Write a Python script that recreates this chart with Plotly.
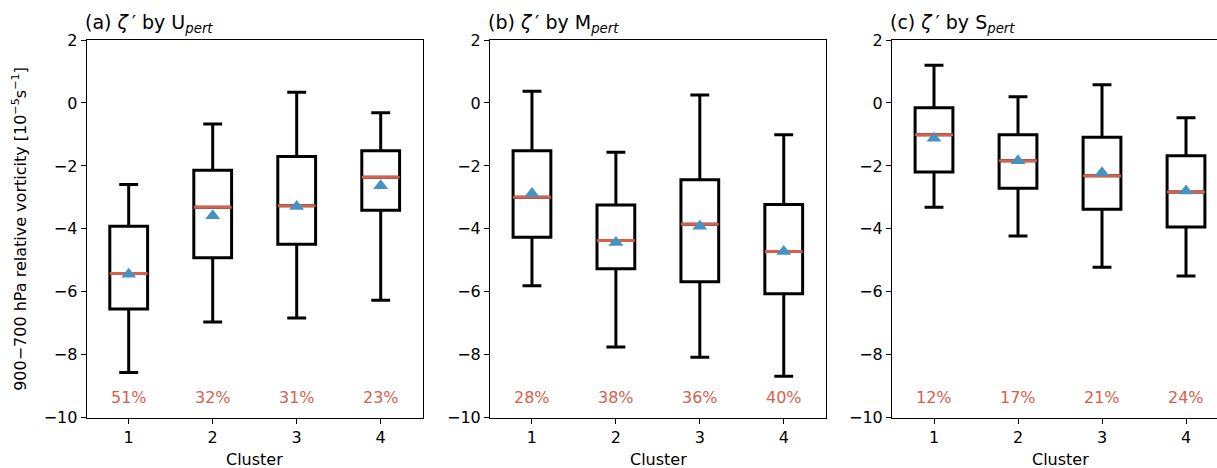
import plotly.graph_objects as go

clusters = [1, 2, 3, 4]

# Panel (a) zeta' by U_pert
a_low = [-8.56, -6.96, -6.83, -6.27]
a_q1 = [-6.55, -4.92, -4.49, -3.41]
a_med = [-5.42, -3.31, -3.27, -2.36]
a_q3 = [-3.92, -2.14, -1.70, -1.52]
a_high = [-2.59, -0.67, 0.34, -0.31]
a_mean = [-5.44, -3.58, -3.29, -2.63]
a_pct = ["51%", "32%", "31%", "23%"]

# Panel (b) zeta' by M_pert
b_low = [-5.81, -7.75, -8.08, -8.68]
b_q1 = [-4.27, -5.27, -5.68, -6.06]
b_med = [-3.00, -4.37, -3.85, -4.72]
b_q3 = [-1.52, -3.24, -2.44, -3.23]
b_high = [0.37, -1.57, 0.25, -1.01]
b_mean = [-2.88, -4.43, -3.92, -4.72]
b_pct = ["28%", "38%", "36%", "40%"]

# Panel (c) zeta' by S_pert
c_low = [-3.31, -4.23, -5.22, -5.50]
c_q1 = [-2.19, -2.71, -3.38, -3.94]
c_med = [-1.01, -1.84, -2.31, -2.83]
c_q3 = [-0.15, -1.01, -1.09, -1.68]
c_high = [1.20, 0.20, 0.58, -0.47]
c_mean = [-1.12, -1.84, -2.22, -2.80]
c_pct = ["12%", "17%", "21%", "24%"]

titles = ["(a) <i>ζ</i>\u2009′ by U<sub><i>pert</i></sub>",
          "(b) <i>ζ</i>\u2009′ by M<sub><i>pert</i></sub>",
          "(c) <i>ζ</i>\u2009′ by S<sub><i>pert</i></sub>"]

yticks = [2, 0, -2, -4, -6, -8, -10]
yticklabels = ["2", "0", "−2", "−4", "−6", "−8", "−10"]

RED = "#d6604d"
BLUE = "#4393c3"
FONT = "DejaVu Sans"
BOXW = 0.45

panels = [
    (a_low, a_q1, a_med, a_q3, a_high, a_mean, a_pct),
    (b_low, b_q1, b_med, b_q3, b_high, b_mean, b_pct),
    (c_low, c_q1, c_med, c_q3, c_high, c_mean, c_pct),
]

W, H = 1217, 468
domains = [(86.7 / W, 422.7 / W), (490 / W, 825.7 / W), (892 / W, 1.0)]
px_per_unit = (422.7 - 86.7) / 4.0
xranges = [[0.5, 4.5], [0.5, 4.5], [0.5, 0.5 + (W - 892) / px_per_unit]]
ydom = [(H - 417.7) / H, (H - 40) / H]

fig = go.Figure()
annotations = []
for i, (lo, q1, med, q3, hi, mean, pct) in enumerate(panels):
    xa = "x" if i == 0 else f"x{i+1}"
    ya = "y" if i == 0 else f"y{i+1}"
    fig.add_trace(go.Box(
        x=clusters, q1=q1, median=med, q3=q3, lowerfence=lo, upperfence=hi,
        width=BOXW, whiskerwidth=0.5, fillcolor="rgba(255,255,255,0)",
        line=dict(color="black", width=3), boxpoints=False,
        xaxis=xa, yaxis=ya, showlegend=False, hoverinfo="skip"))
    for c, m in zip(clusters, med):
        fig.add_trace(go.Scatter(
            x=[c - BOXW / 2, c + BOXW / 2], y=[m, m], mode="lines",
            line=dict(color=RED, width=3), xaxis=xa, yaxis=ya,
            showlegend=False, hoverinfo="skip"))
    fig.add_trace(go.Scatter(
        x=clusters, y=mean, mode="markers",
        marker=dict(symbol="triangle-up", size=13, color=BLUE, line=dict(width=0)),
        xaxis=xa, yaxis=ya, showlegend=False, hoverinfo="skip"))
    for c, p in zip(clusters, pct):
        annotations.append(dict(x=c, y=-9.36, xref=xa, yref=ya, text=p,
                                showarrow=False, font=dict(color=RED, size=16, family=FONT),
                                xanchor="center", yanchor="middle"))
    annotations.append(dict(x=domains[i][0], y=ydom[1], xref="paper", yref="paper",
                            text=titles[i], showarrow=False, xanchor="left", yanchor="bottom",
                            xshift=-4, yshift=2, font=dict(size=19, family=FONT, color="black")))
    annotations.append(dict(x=(domains[i][0] + (422.7 - 86.7) / W / 2),
                            y=ydom[0], xref="paper", yref="paper", text="Cluster",
                            showarrow=False, xanchor="center", yanchor="top", yshift=-30,
                            font=dict(size=16, family=FONT, color="black")))

    axis_common = dict(showline=True, linecolor="black", linewidth=1.1,
                       ticks="outside", ticklen=5, tickwidth=1.1, tickcolor="black",
                       showgrid=False, zeroline=False, automargin=False,
                       tickfont=dict(size=16, family=FONT, color="black"))
    xkey = "xaxis" if i == 0 else f"xaxis{i+1}"
    ykey = "yaxis" if i == 0 else f"yaxis{i+1}"
    fig.update_layout({
        xkey: dict(domain=list(domains[i]), range=xranges[i], anchor=ya, mirror=True,
                   tickvals=clusters, ticktext=[str(c) for c in clusters], **axis_common),
        ykey: dict(domain=ydom, range=[-10, 2], anchor=xa, mirror=(i < 2),
                   tickvals=yticks, ticktext=yticklabels, **axis_common),
    })

annotations.append(dict(x=20 / W, y=(ydom[0] + ydom[1]) / 2, xref="paper", yref="paper",
                        text="900−700 hPa relative vorticity [10<sup>−5</sup>s<sup>−1</sup>]",
                        textangle=-90, showarrow=False, xanchor="center", yanchor="middle",
                        font=dict(size=16, family=FONT, color="black")))

fig.update_layout(
    width=W, height=H, margin=dict(l=0, r=0, t=0, b=0, autoexpand=False),
    paper_bgcolor="white", plot_bgcolor="white",
    annotations=annotations, font=dict(family=FONT, color="black"),
)

fig.write_html("out.html", config={"displayModeBar": False},
               post_script="document.body.style.margin='0';document.body.style.overflow='hidden';")
